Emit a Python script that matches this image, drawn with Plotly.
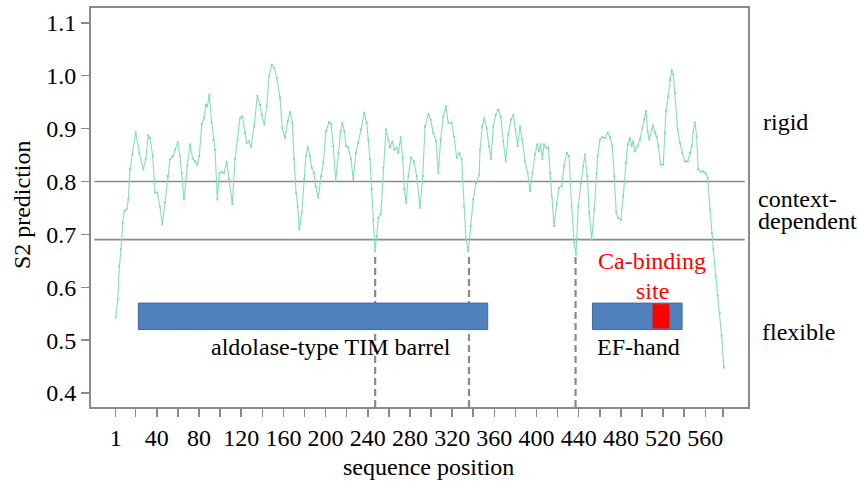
import plotly.graph_objects as go

# ---- data ----
seq_pos = [1, 3, 4.5, 6.1, 7.7, 9.2, 11.5, 13, 14.6, 16.8, 20, 23.4, 27.2, 29.5, 31.9, 33.6, 36.1, 38.3,
           40.5, 43, 45.2, 47.8, 50.3, 52.5, 55.1, 57.3, 59.8, 62, 63.6, 65.8, 68.9, 71.5, 74, 76.2, 78.4,
           80.3, 82.6, 84.8, 86.6, 87.9, 89.8, 92, 93.6, 95.2, 97.4, 99.3, 101.5, 103.7, 106.3, 108.7,
           111.6, 114.1, 116.7, 118.9, 121.1, 123.6, 125.2, 127.4, 129.3, 132.2, 135.3, 137.8, 139.5,
           141.9, 144.2, 146.4, 148.9, 151.4, 153.7, 156.8, 159, 161.5, 164.1, 166.3, 168.5, 170.1, 172,
           173.6, 175.1, 177.4, 179.6, 181.4, 183.1, 185.2, 186.9, 189, 190.6, 193.1, 195.7, 197.8, 200.4,
           203.3, 205.1, 207.3, 209.6, 212.1, 214.3, 215.9, 217.8, 219.4, 221.5, 224.1, 226.3, 228.8, 231,
           233.6, 236.7, 239, 240.5, 242.1, 243.7, 245.3, 246.9, 248.5, 250, 252.3, 254.7, 257.3, 259.5,
           261.1, 263.3, 265.2, 267.4, 269, 271.2, 273.1, 274.6, 276.3, 278.4, 281, 283.8, 286.4, 289.5,
           292.1, 294.3, 297.4, 299.7, 302.1, 304.7, 306.9, 309.1, 311.6, 314.2, 316.3, 319.6, 321.8,
           324.3, 326.8, 329, 331.2, 333.1, 335.3, 337.6, 340, 342.6, 345.7, 346.4, 348.6, 350.5, 352.8,
           354.9, 356.8, 359, 361.3, 363.8, 366, 368.5, 370.8, 373.2, 375.8, 378, 380.2, 382.1, 384.3,
           386.5, 389.1, 391.6, 393.8, 396, 398.6, 400.7, 402.3, 404, 405.5, 407.1, 409, 411.2, 412.8,
           414.4, 416.6, 419.1, 421.3, 423.9, 426, 428.6, 430.8, 433.3, 435.8, 437.4, 439.6, 442.1, 444.3,
           445.9, 448.1, 450, 452.3, 454.8, 457, 458, 460.2, 462.3, 464.9, 467.5, 469.6, 471.8, 473.7,
           475.6, 477.5, 480, 482.2, 484.5, 486.4, 488.6, 490.2, 491.7, 493.3, 495.9, 498.1, 500.3, 502.2,
           503.8, 505.4, 506.9, 509.2, 510.7, 512.3, 513.9, 515.5, 517.7, 520.2, 521.8, 522.7, 524.9,
           526.5, 528.1, 529.7, 531.3, 533.8, 536, 538.2, 540.8, 543.3, 545.5, 547.1, 548.6, 550.2, 551.8,
           553.3, 555.9, 558.1, 560.4, 562.3, 564.5, 566.1, 567.6, 569.9, 571.7, 573.9, 575.5, 577.7]
s2_values = [0.543, 0.577, 0.640, 0.672, 0.722, 0.744, 0.748, 0.766, 0.823, 0.851, 0.893, 0.854, 0.823,
             0.842, 0.887, 0.882, 0.848, 0.779, 0.779, 0.753, 0.719, 0.760, 0.810, 0.842, 0.847, 0.860,
             0.874, 0.848, 0.816, 0.766, 0.829, 0.870, 0.843, 0.838, 0.832, 0.848, 0.908, 0.920, 0.945,
             0.942, 0.964, 0.911, 0.879, 0.860, 0.766, 0.816, 0.818, 0.816, 0.837, 0.804,
             0.757, 0.842, 0.879, 0.920, 0.923, 0.892, 0.873, 0.876, 0.865, 0.904, 0.962, 0.945, 0.926,
             0.908, 0.942, 0.999, 1.021, 1.015, 0.996, 0.958, 0.901, 0.882, 0.914, 0.931, 0.911, 0.842,
             0.779, 0.753, 0.709, 0.741, 0.804, 0.848, 0.865, 0.848, 0.826, 0.816, 0.791, 0.769, 0.810,
             0.835, 0.895, 0.912, 0.909, 0.867, 0.801, 0.854, 0.895, 0.911, 0.895, 0.867, 0.864, 0.842,
             0.804, 0.854, 0.873, 0.898, 0.930, 0.911, 0.879, 0.842, 0.785, 0.728, 0.668, 0.697, 0.731,
             0.738, 0.826, 0.898, 0.879, 0.864, 0.876, 0.860, 0.864, 0.854, 0.884, 0.845, 0.785, 0.760,
             0.810, 0.845, 0.838, 0.810, 0.750, 0.810, 0.904, 0.928, 0.917, 0.892, 0.876, 0.816, 0.879,
             0.923, 0.942, 0.911, 0.911, 0.885, 0.845, 0.854, 0.842, 0.753, 0.691, 0.668, 0.716, 0.766,
             0.797, 0.813, 0.860, 0.904, 0.920, 0.901, 0.867, 0.842, 0.904, 0.926, 0.936, 0.923, 0.876,
             0.838, 0.889, 0.917, 0.926, 0.898, 0.867, 0.904, 0.879, 0.838, 0.816, 0.782, 0.816, 0.851,
             0.870, 0.857, 0.870, 0.842, 0.870, 0.864, 0.864, 0.816, 0.772, 0.716, 0.757, 0.788, 0.791,
             0.829, 0.854, 0.848, 0.753, 0.684, 0.662, 0.753, 0.797, 0.829, 0.851, 0.810, 0.741, 0.691,
             0.747, 0.816, 0.848, 0.879, 0.884, 0.882, 0.892, 0.884, 0.867, 0.810, 0.741, 0.731, 0.727,
             0.772, 0.835, 0.870, 0.882, 0.867, 0.876, 0.857, 0.867, 0.879, 0.901, 0.917, 0.933, 0.895,
             0.879, 0.898, 0.906, 0.892, 0.885, 0.867, 0.832, 0.832, 0.892, 0.933, 0.961, 0.992, 1.011,
             1.002, 0.967, 0.898, 0.873, 0.854, 0.838, 0.838, 0.854, 0.867, 0.895, 0.912, 0.885, 0.823,
             0.818, 0.819, 0.816, 0.807, 0.747, 0.703, 0.672, 0.621, 0.584, 0.552, 0.508, 0.448]

thresholds = [0.8, 0.69]
region_labels = ["rigid", "context-", "dependent", "flexible"]
dip_positions = [247, 336, 437]
dip_top = 0.665

domain_names = ["aldolase-type TIM barrel", "EF-hand"]
domain_start = [22.5, 453]
domain_end = [353.7, 538]
domain_y = [0.52, 0.57]
ca_site = [510, 526]

tick_vals = [1] + list(range(20, 561, 20)) + [577]
tick_text = ["1"] + [str(v) if v % 40 == 0 else "" for v in range(20, 561, 20)] + [""]
y_ticks = [0.4, 0.5, 0.6, 0.7, 0.8, 0.9, 1.0, 1.1]

FONT = "Times New Roman, Liberation Serif, serif"
GRAY = "#8a8a8a"
BLUE = "#4f81bd"

X_RANGE = [-22.4, 600.5]
Y_RANGE = [0.3736, 1.128]

fig = go.Figure()

fig.add_trace(go.Scatter(
    x=seq_pos, y=s2_values, mode="lines+markers",
    line=dict(color="#86dfb3", width=1.1),
    marker=dict(color="#7fd9aa", size=2.2),
    showlegend=False, hoverinfo="skip"))

shapes = []
for t in thresholds:
    shapes.append(dict(type="line", xref="paper", yref="y", x0=0.005, x1=0.995, y0=t, y1=t,
                       line=dict(color=GRAY, width=1.6), layer="below"))
for d in dip_positions:
    shapes.append(dict(type="line", xref="x", yref="y", x0=d, x1=d, y0=Y_RANGE[0], y1=dip_top,
                       line=dict(color=GRAY, width=2.2, dash="7px,4px"), layer="above"))
for s, e in zip(domain_start, domain_end):
    shapes.append(dict(type="rect", xref="x", yref="y", x0=s, x1=e, y0=domain_y[0], y1=domain_y[1],
                       fillcolor=BLUE, line=dict(color="#41699a", width=1), layer="above"))
shapes.append(dict(type="rect", xref="x", yref="y", x0=ca_site[0], x1=ca_site[1],
                   y0=domain_y[0] + 0.002, y1=domain_y[1] - 0.002,
                   fillcolor="#ff0000", line=dict(width=0), layer="above"))

ann = []
SZ = 24
txt = dict(family=FONT, size=SZ, color="black")
ann.append(dict(text=region_labels[0], xref="paper", yref="paper", x=1.0198, y=0.714,
                xanchor="left", yanchor="middle", showarrow=False, font=txt))
ann.append(dict(text=region_labels[1], xref="paper", yref="paper", x=1.0122, y=0.521,
                xanchor="left", yanchor="middle", showarrow=False, font=txt))
ann.append(dict(text=region_labels[2], xref="paper", yref="paper", x=1.0122, y=0.467,
                xanchor="left", yanchor="middle", showarrow=False, font=txt))
ann.append(dict(text=region_labels[3], xref="paper", yref="paper", x=1.0183, y=0.188,
                xanchor="left", yanchor="middle", showarrow=False, font=txt))
ann.append(dict(text=domain_names[0], xref="x", yref="y", x=205.2, y=0.487,
                xanchor="center", yanchor="middle", showarrow=False, font=txt))
ann.append(dict(text=domain_names[1], xref="x", yref="y", x=496.7, y=0.487,
                xanchor="center", yanchor="middle", showarrow=False, font=txt))
red = dict(family=FONT, size=SZ, color="#ff0000")
ann.append(dict(text="Ca-binding", xref="x", yref="y", x=509.5, y=0.649,
                xanchor="center", yanchor="middle", showarrow=False, font=red))
ann.append(dict(text="site", xref="x", yref="y", x=509.5, y=0.592,
                xanchor="center", yanchor="middle", showarrow=False, font=red))
ann.append(dict(text="S2 prediction", xref="paper", yref="paper", x=-0.105, y=0.506,
                xanchor="center", yanchor="middle", textangle=-90, showarrow=False, font=txt))
ann.append(dict(text="sequence position", xref="paper", yref="paper", x=0.513, y=-0.150,
                xanchor="center", yanchor="middle", showarrow=False, font=txt))

fig.update_layout(
    width=858, height=484,
    margin=dict(l=91, r=110, t=8, b=77, autoexpand=False),
    paper_bgcolor="white", plot_bgcolor="white",
    shapes=shapes, annotations=ann,
    font=dict(family=FONT, size=SZ, color="black"),
    xaxis=dict(range=X_RANGE, tickmode="array", tickvals=tick_vals, ticktext=tick_text,
               showgrid=False, zeroline=False, showline=True, linecolor=GRAY, linewidth=2,
               mirror=True, ticks="outside", ticklen=8, tickwidth=1.5, tickcolor=GRAY,
               automargin=False,
               tickfont=dict(family=FONT, size=24, color="black")),
    yaxis=dict(range=Y_RANGE, tickmode="array", tickvals=y_ticks,
               ticktext=[f"{v:.1f}" for v in y_ticks],
               showgrid=False, zeroline=False, showline=True, linecolor=GRAY, linewidth=2,
               mirror=True, ticks="outside", ticklen=8, tickwidth=1.5, tickcolor=GRAY,
               automargin=False,
               tickfont=dict(family=FONT, size=24, color="black")),
)

fig.write_html("out.html", config={"displayModeBar": False, "staticPlot": True},
               post_script="document.body.style.margin='0';document.body.style.padding='0';")
